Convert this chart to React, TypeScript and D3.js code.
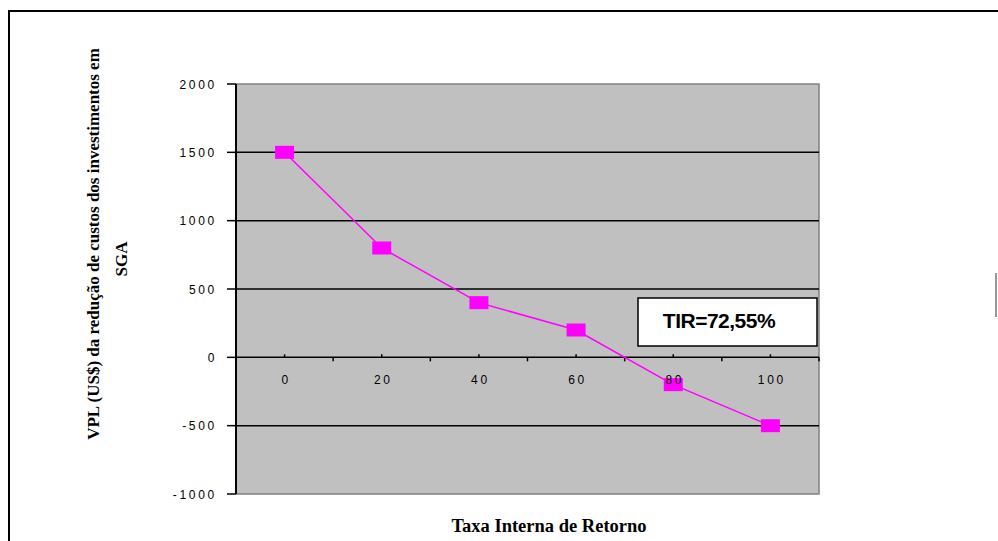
import React from "react";
import * as d3 from "d3";

const categories = ["0", "20", "40", "60", "80", "100"];
const values = [1500, 800, 400, 200, -200, -500];
const yTicks = [2000, 1500, 1000, 500, 0, -500, -1000];
const yTitle1 = "VPL (US$) da redução de custos dos investimentos em";
const yTitle2 = "SGA";
const xTitle = "Taxa Interna de Retorno";
const annotation = "TIR=72,55%";

export default function App() {
  const left = 236, right = 819, top = 84, bottom = 494;
  const x = d3.scaleBand<string>().domain(categories).range([left, right]).padding(0);
  const y = d3.scaleLinear().domain([-1000, 2000]).range([bottom, top]);
  const cx = (c: string) => (x(c) as number) + x.bandwidth() / 2;
  const line = d3.line<number>().x((_, i) => cx(categories[i])).y((v) => y(v));
  const y0 = y(0);
  const boundaries = categories.map((c) => (x(c) as number) + x.bandwidth());
  const tickFont = "Arial, 'Liberation Sans', sans-serif";
  const titleFont = "'Times New Roman', 'Liberation Serif', serif";

  return (
    <svg width={998} height={541} style={{ position: "absolute", left: 0, top: 0 }}>
      <rect x={0} y={0} width={998} height={541} fill="#fff" />
      <rect x={9} y={11} width={1000} height={545} fill="none" stroke="#000" strokeWidth={2} />
      <line x1={996} x2={996} y1={273} y2={317} stroke="#777" strokeWidth={1.5} />
      {/* plot area */}
      <rect x={left} y={top} width={right - left} height={bottom - top} fill="#C0C0C0" stroke="#808080" strokeWidth={1.5} />
      {yTicks.filter((t) => t !== 2000 && t !== -1000).map((t) => (
        <line key={t} x1={left} x2={right} y1={y(t)} y2={y(t)} stroke="#000" strokeWidth={1.5} />
      ))}
      {/* y axis */}
      <line x1={left} x2={left} y1={top} y2={bottom} stroke="#000" strokeWidth={2} />
      {yTicks.map((t) => (
        <g key={"yt" + t}>
          <line x1={left - 9} x2={left} y1={y(t)} y2={y(t)} stroke="#000" strokeWidth={1.5} />
          <text x={left - 19} y={y(t) + 4.5} textAnchor="end" fontFamily={tickFont} fontSize={12} letterSpacing={2.7} fill="#000">
            {t}
          </text>
        </g>
      ))}
      {/* x axis ticks */}
      {boundaries.map((b, i) => (
        <line key={"xb" + i} x1={b} x2={b} y1={y0} y2={y0 + 4} stroke="#000" strokeWidth={1.5} />
      ))}
      {categories.map((c) => (
        <line key={"xc" + c} x1={cx(c)} x2={cx(c)} y1={y0 - 3} y2={y0} stroke="#000" strokeWidth={1.5} />
      ))}
      {/* series */}
      <path d={line(values) as string} fill="none" stroke="#FF00FF" strokeWidth={1.5} />
      {values.map((v, i) => (
        <rect key={"m" + i} x={cx(categories[i]) - 9.5} y={y(v) - 6.5} width={19} height={13} fill="#FF00FF" />
      ))}
      {/* x tick labels above series */}
      {categories.map((c) => (
        <text key={"xl" + c} x={cx(c) + 1.5} y={y0 + 27} textAnchor="middle" fontFamily={tickFont} fontSize={12} letterSpacing={2.7} fill="#000">
          {c}
        </text>
      ))}
      {/* annotation */}
      <rect x={638} y={298} width={179} height={48} fill="#fff" stroke="#000" strokeWidth={1.5} />
      <text x={719} y={328} textAnchor="middle" fontFamily={tickFont} fontWeight="bold" fontSize={21} letterSpacing={-0.5} fill="#000">
        {annotation}
      </text>
      {/* titles */}
      <text transform="translate(99,244) rotate(-90)" textAnchor="middle" fontFamily={titleFont} fontWeight="bold" fontSize={17} fill="#000">
        {yTitle1}
      </text>
      <text transform="translate(127,259) rotate(-90)" textAnchor="middle" fontFamily={titleFont} fontWeight="bold" fontSize={17} fill="#000">
        {yTitle2}
      </text>
      <text x={549} y={532} textAnchor="middle" fontFamily={titleFont} fontWeight="bold" fontSize={18.5} fill="#000">
        {xTitle}
      </text>
    </svg>
  );
}
